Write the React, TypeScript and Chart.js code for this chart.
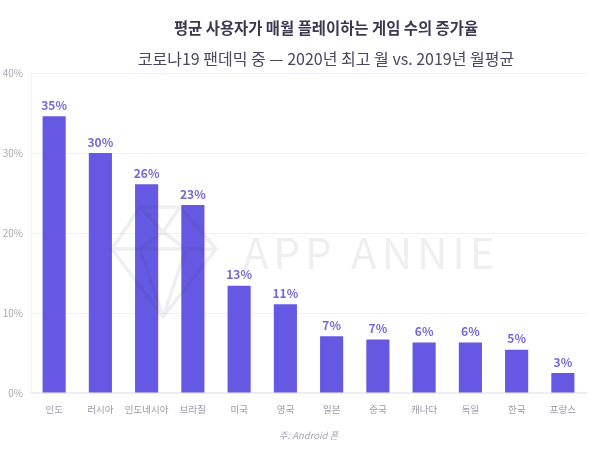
import React, { useEffect, useRef } from "react";
import { Chart, registerables } from "chart.js";

Chart.register(...registerables);

const countries = ["인도", "러시아", "인도네시아", "브라질", "미국", "영국", "일본", "중국", "캐나다", "독일", "한국", "프랑스"];
const growth = [34.6, 30, 26.1, 23.5, 13.4, 11.1, 7.1, 6.7, 6.3, 6.3, 5.4, 2.5];
const growthLabels = ["35%", "30%", "26%", "23%", "13%", "11%", "7%", "7%", "6%", "6%", "5%", "3%"];
const yTicks = [0, 10, 20, 30, 40];

const titleText = "평균 사용자가 매월 플레이하는 게임 수의 증가율";
const subtitleText = "코로나19 팬데믹 중 — 2020년 최고 월 vs. 2019년 월평균";
const noteText = "주: Android 폰";
const watermarkText = "APP ANNIE";

const fontFamily = '"Noto Sans CJK KR", "Noto Sans", sans-serif';

// bar value labels on top of each bar
const barLabels = {
  id: "barLabels",
  afterDatasetsDraw(chart: any) {
    const ctx = chart.ctx;
    const meta = chart.getDatasetMeta(0);
    ctx.save();
    ctx.font = `bold 12px ${fontFamily}`;
    ctx.fillStyle = "#7568d6";
    ctx.textAlign = "center";
    ctx.textBaseline = "bottom";
    meta.data.forEach((bar: any, i: number) => {
      ctx.fillText(growthLabels[i], bar.x, bar.y - 5);
    });
    ctx.restore();
  },
};

// headings sit right of the page centre in the picture, so they are placed by hand
const headings = {
  id: "headings",
  afterDraw(chart: any) {
    const ctx = chart.ctx;
    ctx.save();
    ctx.textAlign = "center";
    ctx.textBaseline = "middle";
    ctx.fillStyle = "#3b3850";
    ctx.font = `bold 15.4px ${fontFamily}`;
    ctx.fillText(titleText, 326, 28);
    ctx.fillStyle = "#4a4760";
    ctx.font = `16px ${fontFamily}`;
    ctx.fillText(subtitleText, 326, 59);
    ctx.restore();
  },
};

const watermark = {
  id: "watermark",
  afterDatasetsDraw(chart: any) {
    const ctx = chart.ctx;
    ctx.save();
    ctx.globalAlpha = 0.09;
    ctx.strokeStyle = "#4a4760";
    ctx.lineWidth = 3.5;
    ctx.lineJoin = "round";
    ctx.beginPath();
    // outline
    ctx.moveTo(112, 249);
    ctx.lineTo(140, 207);
    ctx.lineTo(180, 207);
    ctx.lineTo(216, 249);
    ctx.lineTo(163, 317);
    ctx.closePath();
    // facets
    ctx.moveTo(112, 249);
    ctx.lineTo(216, 249);
    ctx.moveTo(140, 207);
    ctx.lineTo(163, 232);
    ctx.lineTo(180, 207);
    ctx.moveTo(140, 249);
    ctx.lineTo(163, 232);
    ctx.lineTo(186, 249);
    ctx.lineTo(163, 317);
    ctx.lineTo(140, 249);
    ctx.stroke();
    ctx.fillStyle = "#4a4760";
    ctx.font = `42px ${fontFamily}`;
    ctx.letterSpacing = "5px";
    ctx.textAlign = "left";
    ctx.textBaseline = "middle";
    ctx.fillText(watermarkText, 243, 253);
    ctx.restore();
  },
};

export default function App() {
  const canvasRef = useRef<HTMLCanvasElement | null>(null);

  useEffect(() => {
    document.body.style.margin = "0";
    document.body.style.background = "#fff";
    const ctx = canvasRef.current?.getContext("2d");
    if (!ctx) return;

    const chart = new Chart(ctx, {
      type: "bar",
      data: {
        labels: countries,
        datasets: [
          {
            data: growth,
            backgroundColor: "#6558e2",
            barPercentage: 0.5,
            categoryPercentage: 1,
          },
        ],
      },
      options: {
        responsive: false,
        animation: false,
        layout: { padding: { top: 73, right: 14, bottom: 9, left: 0 } },
        plugins: {
          legend: { display: false },
          tooltip: { enabled: false },
        },
        scales: {
          x: {
            grid: { display: false },
            border: { color: "#eeeef2", width: 2 },
            ticks: {
              color: "#9a9aa8",
              font: { size: 9.5, family: fontFamily },
              maxRotation: 0,
              autoSkip: false,
              padding: 3,
            },
            title: {
              display: true,
              text: noteText,
              color: "#a5a5b0",
              font: { size: 9.5, style: "italic", family: fontFamily },
              padding: { top: 8, bottom: 0 },
            },
            afterFit: (axis: any) => {
              axis.height = 48;
            },
          },
          y: {
            min: 0,
            max: 40,
            afterBuildTicks: (axis: any) => {
              axis.ticks = yTicks.map((value) => ({ value }));
            },
            grid: { color: "#f0f0f4", lineWidth: 1, drawTicks: false },
            border: { display: true, color: "#f2f2f6" },
            ticks: {
              color: "#a8a8b4",
              font: { size: 10, family: fontFamily },
              padding: 8,
              callback: (value: any) => `${value}%`,
            },
            afterFit: (axis: any) => {
              axis.width = 31;
            },
          },
        },
      },
      plugins: [watermark, barLabels, headings],
    });

    return () => chart.destroy();
  }, []);

  // the reference is a soft, upscaled image
  return <canvas ref={canvasRef} width={600} height={450} style={{ display: "block", filter: "blur(0.5px)" }} />;
}
